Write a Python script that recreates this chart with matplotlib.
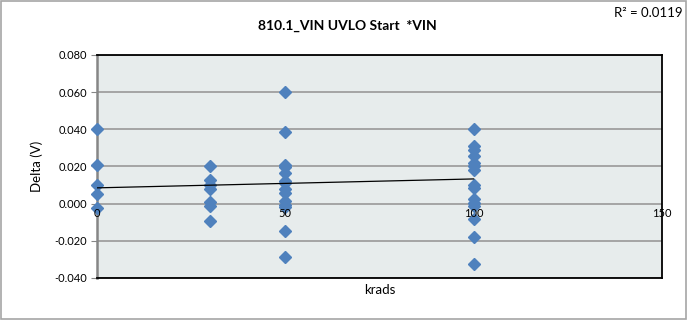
import numpy as np
import matplotlib.pyplot as plt
from matplotlib.patches import Rectangle

plt.rcParams['font.family'] = ['Lato', 'DejaVu Sans']

# dose (krads) and delta (V) for each group of parts
dose_0 = [0, 0, 0, 0, 0]
delta_0 = [0.040, 0.021, 0.010, 0.005, -0.0025]
dose_30 = [30] * 7
delta_30 = [0.0205, 0.0125, 0.010, 0.008, 0.001, -0.0015, -0.0095]
dose_50 = [50] * 14
delta_50 = [0.060, 0.0385, 0.021, 0.0195, 0.0165, 0.012, 0.011, 0.008,
            0.0055, 0.0015, -0.0005, -0.002, -0.0145, -0.0287]
dose_100 = [100] * 15
delta_100 = [0.040, 0.031, 0.029, 0.0255, 0.022, 0.0205, 0.018, 0.010,
             0.0085, 0.0025, 0.0005, -0.0015, -0.0085, -0.018, -0.0325]

# linear trendline as reported
trend_intercept = 0.0085
trend_slope = 0.000048
r2_text = 'R\u00b2 = 0.0119'

xticks = [0, 50, 100, 150]
yticks = [-0.04, -0.02, 0.0, 0.02, 0.04, 0.06, 0.08]

x = np.array(dose_0 + dose_30 + dose_50 + dose_100)
y = np.array(delta_0 + delta_30 + delta_50 + delta_100)

fig = plt.figure(figsize=(6.87, 3.2), dpi=100)
fig.patches.append(Rectangle((0.001, 0.002), 0.997, 0.995, transform=fig.transFigure,
                             fill=False, edgecolor='#A6A6A6', linewidth=1.2))
ax = fig.add_axes([0.1412, 0.13125, 0.8224, 0.697])
ax.set_facecolor('#E7ECEC')

for v in yticks:
    ax.axhline(v, color='#A5A5A5', linewidth=1.4, zorder=1)

ax.plot(x, y, linestyle='none', marker='D', markersize=6,
        color='#4F81BD', zorder=3, clip_on=False)

tx = np.array([x.min(), x.max()])
ax.plot(tx, trend_intercept + trend_slope * tx, color='black', linewidth=0.9, zorder=4)

ax.set_xlim(0, 150)
ax.set_ylim(-0.04, 0.08)
ax.set_yticks(yticks)
ax.set_yticklabels(['%.3f' % v for v in yticks], fontsize=8)
ax.set_xticks([])
ax.tick_params(axis='y', length=4, color='#868686', direction='out', pad=3)

# x labels sit under the zero line
for v in xticks:
    ax.annotate(str(v), (v, 0), xytext=(0, -3), textcoords='offset points',
                ha='center', va='top', fontsize=8, zorder=5, annotation_clip=False)

for s in ['top', 'right', 'bottom']:
    ax.spines[s].set_color('black')
    ax.spines[s].set_linewidth(1.3)
ax.spines['left'].set_color('#868686')
ax.spines['left'].set_linewidth(1.8)

ax.set_ylabel('Delta (V)', fontsize=9.5, labelpad=8)
ax.set_xlabel('krads', fontsize=9.5, labelpad=4)

fig.text(0.505, 0.92, '810.1_VIN UVLO Start  *VIN', ha='center', va='center',
         fontsize=10, fontweight='bold')
fig.text(0.993, 0.96, r2_text, ha='right', va='center', fontsize=9.5)

fig.savefig('out.png', dpi=100)
